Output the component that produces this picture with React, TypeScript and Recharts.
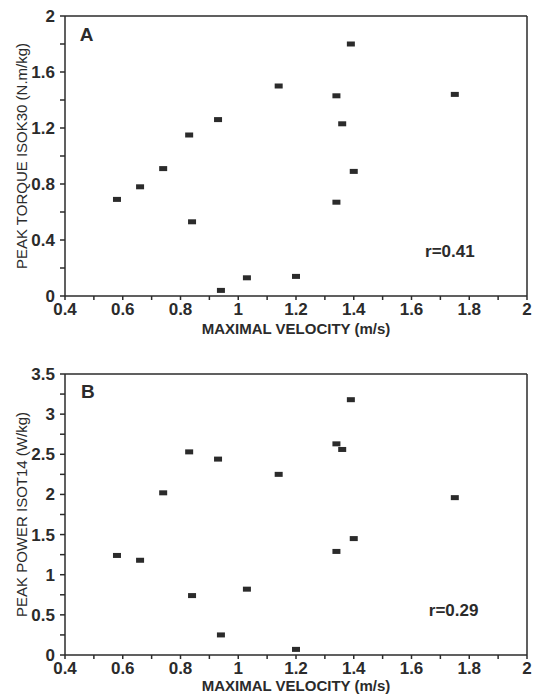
import { ScatterChart, Scatter, XAxis, YAxis, ReferenceLine, ReferenceDot } from "recharts";

// maximal velocity (m/s), same subjects in both panels
const velocity = [0.58, 0.66, 0.74, 0.83, 0.84, 0.93, 0.94, 1.03, 1.14, 1.2, 1.34, 1.34, 1.36, 1.39, 1.4, 1.75];
// panel A: peak torque ISOK30 (N.m/kg)
const torque = [0.69, 0.78, 0.91, 1.15, 0.53, 1.26, 0.04, 0.13, 1.5, 0.14, 1.43, 0.67, 1.23, 1.8, 0.89, 1.44];
// panel B: peak power ISOT14 (W/kg)
const power = [1.24, 1.18, 2.02, 2.53, 0.74, 2.44, 0.25, 0.82, 2.25, 0.07, 2.63, 1.29, 2.56, 3.18, 1.45, 1.96];

const xTicks = [0.4, 0.5, 0.6, 0.7, 0.8, 0.9, 1, 1.1, 1.2, 1.3, 1.4, 1.5, 1.6, 1.7, 1.8, 1.9, 2];
const yTicksA = [0, 0.2, 0.4, 0.6, 0.8, 1, 1.2, 1.4, 1.6, 1.8, 2];
const yTicksB = [0, 0.25, 0.5, 0.75, 1, 1.25, 1.5, 1.75, 2, 2.25, 2.5, 2.75, 3, 3.25, 3.5];

const ink = "#2b2b2b";
const font = "'Liberation Sans', Arial, sans-serif";

const dataA = velocity.map((v, i) => ({ v, y: torque[i] }));
const dataB = velocity.map((v, i) => ({ v, y: power[i] }));

const tickStyle = { fill: ink, fontSize: 17, fontWeight: "bold", fontFamily: font };

// small filled rectangles like the original markers
const Marker = (props: any) => (
  <rect x={props.cx - 4} y={props.cy - 2.5} width={8} height={5} fill={ink} />
);

interface PanelProps {
  data: { v: number; y: number }[];
  yMax: number;
  yTicks: number[];
  yStep: number;
  yLabel: string;
  tag: string;
  tagPos: [number, number];
  r: string;
  rPos: [number, number];
  height: number;
  top: number;
  bottomMargin: number;
  xLabelOffset: number;
}

function Panel(p: PanelProps) {
  return (
    <div style={{ position: "absolute", left: 0, top: p.top }}>
      <ScatterChart
        width={534}
        height={p.height}
        margin={{ top: 16, right: 7, left: 0, bottom: p.bottomMargin }}
        style={{ fontFamily: font }}
      >
        <XAxis
          type="number"
          dataKey="v"
          domain={[0.4, 2]}
          ticks={xTicks}
          interval={0}
          tickSize={4}
          tickMargin={3}
          height={40}
          stroke={ink}
          strokeWidth={1.5}
          tick={tickStyle}
          tickFormatter={(t: number) => (Math.round(t * 10) % 2 === 0 ? String(t) : "")}
          label={{
            value: "MAXIMAL VELOCITY (m/s)",
            position: "insideBottom",
            offset: p.xLabelOffset,
            fill: ink,
            fontSize: 15,
            fontWeight: "bold",
            fontFamily: font,
          }}
        />
        <YAxis
          type="number"
          dataKey="y"
          domain={[0, p.yMax]}
          ticks={p.yTicks}
          interval={0}
          width={65}
          tickSize={5}
          tickMargin={5}
          stroke={ink}
          strokeWidth={1.5}
          tick={tickStyle}
          tickFormatter={(t: number) => {
            const k = t / p.yStep;
            return Math.abs(k - Math.round(k)) < 1e-6 ? String(t) : "";
          }}
          label={{
            value: p.yLabel,
            angle: -90,
            position: "center",
            dx: -11,
            fill: ink,
            fontSize: 15,
            fontFamily: font,
          }}
        />
        <ReferenceLine y={p.yMax} stroke={ink} strokeWidth={1.5} />
        <ReferenceLine x={2} stroke={ink} strokeWidth={1.5} />
        <Scatter data={p.data} shape={Marker} isAnimationActive={false} />
        <ReferenceDot
          x={p.tagPos[0]}
          y={p.tagPos[1]}
          r={0}
          label={{ value: p.tag, position: "center", fill: ink, fontSize: 19, fontWeight: "bold", fontFamily: font }}
        />
        <ReferenceDot
          x={p.rPos[0]}
          y={p.rPos[1]}
          r={0}
          label={{ value: p.r, position: "center", fill: ink, fontSize: 17, fontWeight: "bold", fontFamily: font }}
        />
      </ScatterChart>
    </div>
  );
}

export default function App() {
  return (
    <div style={{ position: "absolute", left: 0, top: 0, width: 534, height: 696, background: "#fff" }}>
      <Panel
        data={dataA}
        yMax={2}
        yTicks={yTicksA}
        yStep={0.4}
        yLabel="PEAK TORQUE ISOK30 (N.m/kg)"
        tag="A"
        tagPos={[0.475, 1.87]}
        r="r=0.41"
        rPos={[1.733, 0.32]}
        height={340}
        top={0}
        bottomMargin={4}
        xLabelOffset={2}
      />
      <Panel
        data={dataB}
        yMax={3.5}
        yTicks={yTicksB}
        yStep={0.5}
        yLabel="PEAK POWER ISOT14 (W/kg)"
        tag="B"
        tagPos={[0.479, 3.29]}
        r="r=0.29"
        rPos={[1.746, 0.56]}
        height={338}
        top={358}
        bottomMargin={1}
        xLabelOffset={4}
      />
    </div>
  );
}
